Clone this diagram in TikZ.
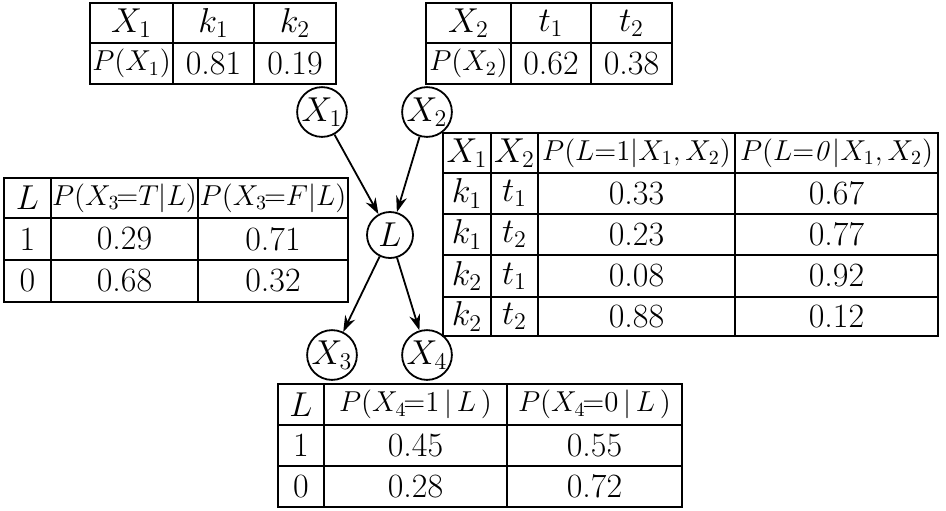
\documentclass[tikz,border=0pt]{standalone}
\usetikzlibrary{arrows.meta}
\tikzset{
  cell/.style={draw, line width=0.9pt, inner sep=0pt, font=\fontsize{17}{20}\selectfont},
  var/.style={draw, circle, line width=0.9pt, minimum size=23pt, inner sep=0pt, font=\fontsize{17}{20}\selectfont},
  arr/.style={line width=0.9pt, -{Stealth[length=8pt,width=5.5pt]}}
}
\newcommand{\tcell}[6]{\node[cell, minimum width={(#4-#2)*0.5pt}, minimum height={(#5-#3)*0.5pt}] (#1) at ({(#2+#4)/2},{(#3+#5)/2}) {#6};}
\newcommand{\hsz}{\fontsize{14.5}{17}\selectfont}
\begin{document}
\begin{tikzpicture}[x=0.5pt,y=-0.5pt]
\useasboundingbox (0,0) rectangle (946,510);
% table X1
\tcell{a11}{90}{3}{173}{43}{$X_1$}
\tcell{a12}{173}{3}{254}{43}{$k_1$}
\tcell{a13}{254}{3}{336}{43}{$k_2$}
\tcell{a21}{90}{43}{173}{84}{\hsz$P(X_1)$}
\tcell{a22}{173}{43}{254}{84}{0.81}
\tcell{a23}{254}{43}{336}{84}{0.19}
% table X2
\tcell{b11}{426}{3}{511}{43}{$X_2$}
\tcell{b12}{511}{3}{591}{43}{$t_1$}
\tcell{b13}{591}{3}{672}{43}{$t_2$}
\tcell{b21}{426}{43}{511}{84}{\hsz$P(X_2)$}
\tcell{b22}{511}{43}{591}{84}{0.62}
\tcell{b23}{591}{43}{672}{84}{0.38}
% table X3
\tcell{c11}{4}{178}{51}{218}{$L$}
\tcell{c12}{51}{178}{198}{218}{\hsz$P(X_3\mkern-2mu{=}T|L)$}
\tcell{c13}{198}{178}{348}{218}{\hsz$P(X_3\mkern-2mu{=}F|L)$}
\tcell{c21}{4}{218}{51}{260}{1}
\tcell{c22}{51}{218}{198}{260}{0.29}
\tcell{c23}{198}{218}{348}{260}{0.71}
\tcell{c31}{4}{260}{51}{302}{0}
\tcell{c32}{51}{260}{198}{302}{0.68}
\tcell{c33}{198}{260}{348}{302}{0.32}
% table L
\tcell{d11}{443}{133}{491}{173}{$X_1$}
\tcell{d12}{491}{133}{538}{173}{$X_2$}
\tcell{d13}{538}{133}{735}{173}{\hsz$P(L{=}1|X_1,X_2)$}
\tcell{d14}{735}{133}{938}{173}{\hsz$P(L{=}\mathit{0}|X_1,X_2)$}
\tcell{d21}{443}{173}{491}{214}{$k_1$}
\tcell{d22}{491}{173}{538}{214}{$t_1$}
\tcell{d23}{538}{173}{735}{214}{0.33}
\tcell{d24}{735}{173}{938}{214}{0.67}
\tcell{d31}{443}{214}{491}{255}{$k_1$}
\tcell{d32}{491}{214}{538}{255}{$t_2$}
\tcell{d33}{538}{214}{735}{255}{0.23}
\tcell{d34}{735}{214}{938}{255}{0.77}
\tcell{d41}{443}{255}{491}{297}{$k_2$}
\tcell{d42}{491}{255}{538}{297}{$t_1$}
\tcell{d43}{538}{255}{735}{297}{0.08}
\tcell{d44}{735}{255}{938}{297}{0.92}
\tcell{d51}{443}{297}{491}{336}{$k_2$}
\tcell{d52}{491}{297}{538}{336}{$t_2$}
\tcell{d53}{538}{297}{735}{336}{0.88}
\tcell{d54}{735}{297}{938}{336}{0.12}
% table X4
\tcell{e11}{278}{384}{324}{425}{$L$}
\tcell{e12}{324}{384}{507}{425}{\hsz$P(X_4\mkern-2mu{=}1\,|\,L\,)$}
\tcell{e13}{507}{384}{682}{425}{\hsz$P(X_4\mkern-2mu{=}0\,|\,L\,)$}
\tcell{e21}{278}{425}{324}{466}{1}
\tcell{e22}{324}{425}{507}{466}{0.45}
\tcell{e23}{507}{425}{682}{466}{0.55}
\tcell{e31}{278}{466}{324}{507}{0}
\tcell{e32}{324}{466}{507}{507}{0.28}
\tcell{e33}{507}{466}{682}{507}{0.72}
% network
\node[var] (X1) at (322,112) {$X_1$};
\node[var] (X2) at (427,112) {$X_2$};
\node[var] (L) at (390,235) {$L$};
\node[var] (X3) at (332,355) {$X_3$};
\node[var] (X4) at (427,355) {$X_4$};
\draw[arr] (X1) -- (L);
\draw[arr] (X2) -- (L);
\draw[arr] (L) -- (X3);
\draw[arr] (L) -- (X4);
\end{tikzpicture}
\end{document}
